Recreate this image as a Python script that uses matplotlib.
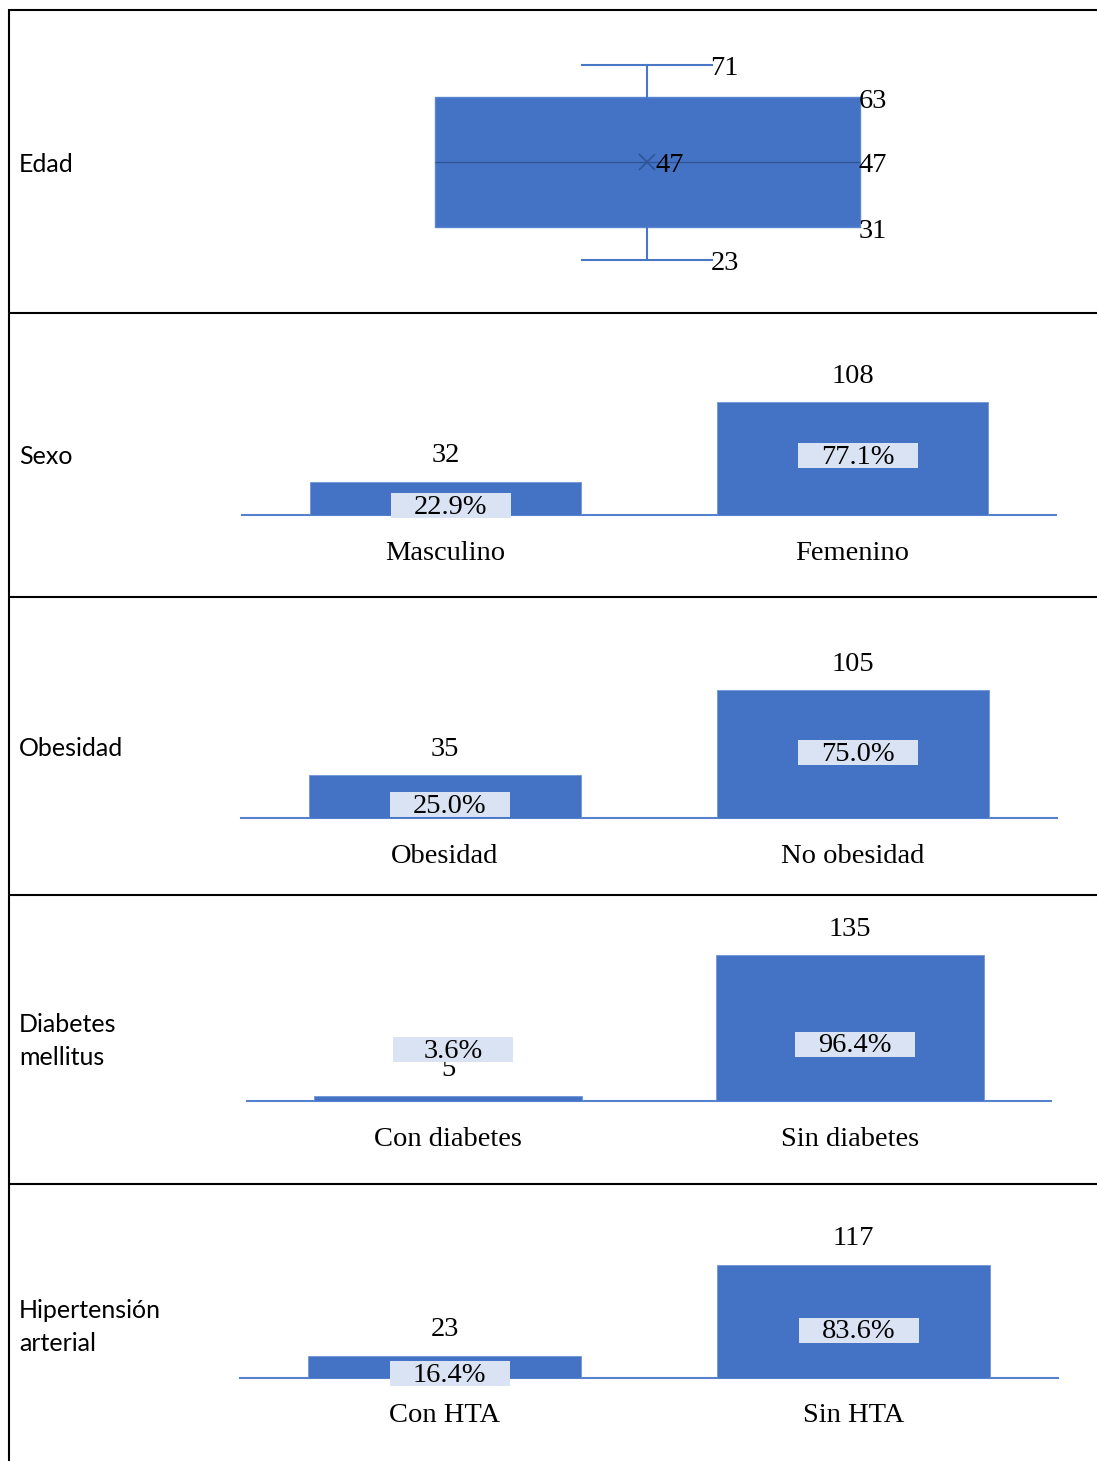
import matplotlib
matplotlib.use('Agg')
import matplotlib.pyplot as plt
import matplotlib.transforms as mtransforms
from matplotlib.patches import Rectangle

W, H = 1097, 1461
BLUE = '#4472C4'
DARK = '#2F5597'
LABEL_BG = '#DAE3F3'
SERIF = 'Liberation Serif'
SANS = 'Lato'

# datos
row_titles = ['Edad', 'Sexo', 'Obesidad', 'Diabetes\nmellitus', 'Hipertensión\narterial']
edad_stats = dict(whislo=23, q1=31, med=47, q3=63, whishi=71, mean=47, fliers=[])
sexo_cats = ['Masculino', 'Femenino']
sexo_n = [32, 108]
obes_cats = ['Obesidad', 'No obesidad']
obes_n = [35, 105]
dm_cats = ['Con diabetes', 'Sin diabetes']
dm_n = [5, 135]
hta_cats = ['Con HTA', 'Sin HTA']
hta_n = [23, 117]

row_lines = [10, 313, 597, 895, 1184]
title_y = [163, 456, 747, 1040, 1326]

fig = plt.figure(figsize=(W / 100, H / 100), dpi=100)


def px_axes(x0, y0, x1, y1, **kw):
    ax = fig.add_axes([x0 / W, 1 - y1 / H, (x1 - x0) / W, (y1 - y0) / H], **kw)
    ax.patch.set_visible(False)
    return ax


# marco de la tabla
frame = px_axes(0, 0, W, H, zorder=0)
frame.set_xlim(0, W)
frame.set_ylim(H, 0)
frame.axis('off')
frame.plot([9, 9], [9, H], color='black', lw=1.5, solid_capstyle='butt')
for y in row_lines:
    frame.plot([8, W], [y, y], color='black', lw=1.5, solid_capstyle='butt')
for t, y in zip(row_titles, title_y):
    frame.text(19, y + 1, t, ha='left', va='center', fontsize=18, family=SANS,
               linespacing=1.5, color='black')

# Edad: diagrama de caja
s = 4.0625
axb = px_axes(222, 10, 1072, 313, zorder=2)
axb.set_xlim(0, 1)
axb.set_ylim(63 - (313 - 97) / s, 63 + (97 - 10) / s)
axb.bxp([edad_stats], positions=[0.5], widths=0.5, capwidths=0.152,
        showmeans=True, patch_artist=True,
        boxprops=dict(facecolor=BLUE, edgecolor='#5A86D0', linewidth=1),
        whiskerprops=dict(color='#4A76C6', linewidth=1.5),
        capprops=dict(color='#4A76C6', linewidth=1.5),
        medianprops=dict(color=DARK, linewidth=1),
        meanprops=dict(marker='x', markeredgecolor=DARK, markersize=11,
                       markeredgewidth=1.2))
axb.axis('off')
cap_x = 0.5 + 0.076
for x, key in [(cap_x, 'whishi'), (0.75, 'q3'), (0.75, 'med'), (0.75, 'q1'), (cap_x, 'whislo')]:
    axb.annotate(str(edad_stats[key]), (x, edad_stats[key]), xytext=(-1, -4),
                 textcoords='offset pixels', ha='left', va='center',
                 fontsize=20.5, family=SERIF, annotation_clip=False)
axb.annotate(str(edad_stats['mean']), (0.5, edad_stats['mean']), xytext=(8, -4),
             textcoords='offset pixels', ha='left', va='center',
             fontsize=20.5, family=SERIF)


def bar_panel(cats, counts, x0, x1, top, base, scale, pct_dy):
    ax = px_axes(x0, top, x1, base, zorder=2)
    ax.set_xlim(-0.5, 1.5)
    ax.set_ylim(0, (base - top) / scale)
    total = sum(counts)
    ax.bar(range(len(counts)), counts, width=0.667, color=BLUE,
           edgecolor='#7096D6', linewidth=0.6, zorder=3)
    for sp in ['top', 'left', 'right']:
        ax.spines[sp].set_visible(False)
    ax.spines['bottom'].set_color('#5482CF')
    ax.spines['bottom'].set_linewidth(1.5)
    ax.set_xticks([])
    ax.set_yticks([])
    for i, (c, n) in enumerate(zip(cats, counts)):
        ax.annotate(str(n), (i, n), xytext=(0, 26), textcoords='offset pixels',
                    ha='center', va='center', fontsize=20.5, family=SERIF,
                    zorder=4, annotation_clip=False)
        ax.annotate(c, (i, 0), xytext=(0, -38), textcoords='offset pixels',
                    ha='center', va='center', fontsize=20.5, family=SERIF,
                    annotation_clip=False)
        # etiqueta de porcentaje con fondo claro
        dy = pct_dy[i]
        t = mtransforms.Affine2D() + mtransforms.ScaledTranslation(i, 0, ax.transData)
        ax.add_patch(Rectangle((5 - 60, dy - 12.5), 120, 25, transform=t,
                               facecolor=LABEL_BG, edgecolor='none', zorder=5,
                               clip_on=False))
        ax.annotate(f'{n / total * 100:.1f}%', (i, 0), xytext=(5, dy - 2),
                    textcoords='offset pixels', ha='center', va='center',
                    fontsize=20.5, family=SERIF, zorder=6, annotation_clip=False)
    return ax


bar_panel(sexo_cats, sexo_n, 242, 1056, 313, 515, 1.046, [9.5, 60])
bar_panel(obes_cats, obes_n, 241, 1057, 597, 818, 1.219, [13.5, 66])
bar_panel(dm_cats, dm_n, 247, 1051, 895, 1101, 1.081, [52, 57])
bar_panel(hta_cats, hta_n, 240, 1058, 1184, 1378, 0.966, [4.5, 48])

fig.savefig('out.png', dpi=100)
